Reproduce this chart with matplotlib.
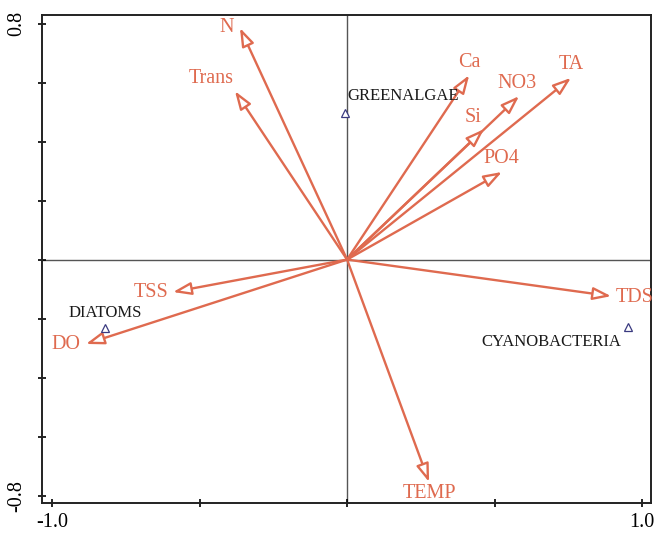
import matplotlib
matplotlib.use('Agg')
import matplotlib.pyplot as plt
from matplotlib.patches import FancyArrowPatch, ArrowStyle

plt.rcParams['font.family'] = ['Liberation Serif', 'DejaVu Serif']

# environmental variables (arrow tips, CCA axis 1 / axis 2)
env_names = ['N', 'Trans', 'Ca', 'NO3', 'TA', 'Si', 'PO4', 'TSS', 'DO', 'TDS', 'TEMP']
env_x = [-0.363, -0.380, 0.414, 0.583, 0.759, 0.464, 0.525, -0.590, -0.885, 0.895, 0.278]
env_y = [0.785, 0.571, 0.625, 0.554, 0.616, 0.442, 0.297, -0.110, -0.286, -0.124, -0.754]

# species scores
sp_names = ['GREENALGAE', 'DIATOMS', 'CYANOBACTERIA']
sp_x = [-0.007, -0.820, 0.953]
sp_y = [0.497, -0.232, -0.228]

x_ticks = [-1.0, -0.5, 0.0, 0.5, 1.0]
x_ticklabels = ['-1.0', '', '', '', '1.0']
y_ticks = [-0.8, -0.6, -0.4, -0.2, 0.0, 0.2, 0.4, 0.6, 0.8]
y_ticklabels = ['-0.8', '', '', '', '', '', '', '', '0.8']

# label placement (pixel offsets from arrow tip)
env_offsets = {'N': (-13, 0), 'Trans': (-24, 13), 'Ca': (0, 13), 'NO3': (-2, 13),
               'TA': (0, 13), 'Si': (-11, 12), 'PO4': (-1, 13), 'TSS': (-22, 0),
               'DO': (-20, -1), 'TDS': (23, -1), 'TEMP': (0, -11)}
sp_offsets = {'GREENALGAE': (2, 17, 'left'), 'DIATOMS': (0, 15, 'center'),
              'CYANOBACTERIA': (-7, -15, 'right')}

arrow_col = '#DF6A4F'
sp_col = '#3A3A80'

fig = plt.figure(figsize=(6.54, 5.33), dpi=100)
ax = fig.add_axes([0.0642, 0.0563, 0.9312, 0.9156])

ax.set_xlim(-1.034, 1.03)
ax.set_ylim(-0.825, 0.829)

ax.axhline(0, color='#555555', lw=1.0, zorder=1)
ax.axvline(0, color='#555555', lw=1.0, zorder=1)

style = ArrowStyle('-|>', head_length=11, head_width=3.8)
for name, x, y in zip(env_names, env_x, env_y):
    arr = FancyArrowPatch((0, 0), (x, y), arrowstyle=style, mutation_scale=1,
                          shrinkA=0, shrinkB=0, fc='white', ec=arrow_col,
                          lw=1.7, zorder=3)
    ax.add_patch(arr)
    dx, dy = env_offsets[name]
    ax.annotate(name, xy=(x, y), xytext=(dx, dy), textcoords='offset pixels',
                ha='center', va='center', fontsize=14.5, color=arrow_col)

ax.plot(sp_x, sp_y, ls='none', marker='^', ms=6, mfc='white', mec=sp_col,
        mew=0.9, zorder=4)
for name, x, y in zip(sp_names, sp_x, sp_y):
    dx, dy, ha = sp_offsets[name]
    ax.annotate(name, xy=(x, y), xytext=(dx, dy), textcoords='offset pixels',
                ha=ha, va='center', fontsize=12, color='#1a1a1a')

ax.set_xticks(x_ticks)
ax.set_xticklabels(x_ticklabels)
ax.set_yticks(y_ticks)
ax.set_yticklabels(y_ticklabels, rotation=90, va='center')
ax.tick_params(direction='inout', length=6, width=1.2, labelsize=14.5, pad=4)
ax.tick_params(axis='y', pad=8)

for sp in ax.spines.values():
    sp.set_linewidth(1.4)
    sp.set_color('#222222')

fig.savefig('out.png', dpi=100)
